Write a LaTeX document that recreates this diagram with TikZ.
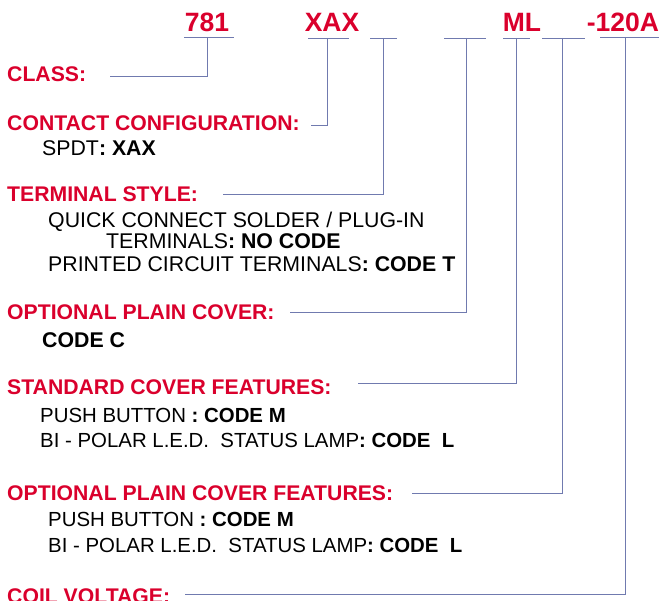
\documentclass[tikz,border=0pt]{standalone}
\usepackage{fontspec}
\setmainfont{Liberation Sans}
\definecolor{codered}{RGB}{218,0,44}
\definecolor{wireblue}{RGB}{112,122,175}
\tikzset{
  code/.style={text=codered,font=\fontsize{26.5}{30}\selectfont\bfseries,inner sep=0pt,anchor=base},
  field/.style={text=codered,font=\fontsize{21.2}{24}\selectfont\bfseries,inner sep=0pt,anchor=base west},
  option/.style={text=black,font=\fontsize{21.3}{24}\selectfont,inner sep=0pt,anchor=base west},
  feature/.style={option,font=\fontsize{20.4}{24}\selectfont},
  wire/.style={draw=wireblue,line width=0.9pt}
}
\begin{document}
\begin{tikzpicture}[x=1pt,y=-1pt]
\useasboundingbox (0,0) rectangle (663,601);
\clip (0,0) rectangle (663,601);

% part number
\node[code] (c781) at (207,31.5) {781};
\node[code] (cxax) at (332,31.5) {XAX};
\node[code] (cml) at (522,31.5) {ML};
\node[code] (cvolt) at (623,31.5) {-120A};

\draw[wire] (184,37) -- (234,37);
\draw[wire] (308,38) -- (349,38);
\draw[wire] (370,38) -- (397,38);
\draw[wire] (444,38) -- (486,38);
\draw[wire] (503,38) -- (530,38);
\draw[wire] (542,38) -- (585,38);
\draw[wire] (600,37) -- (659,37);

\coordinate (t1) at (207.6,37);
\coordinate (t2) at (327.5,38);
\coordinate (t3) at (383.5,38);
\coordinate (t4) at (466,38);
\coordinate (t5) at (516.5,38);
\coordinate (t6) at (562.7,38);
\coordinate (t7) at (625.8,37);

% fields
\node[field] (fclass) at (7,81.5) {CLASS:};
\node[field] (fcontact) at (7,130.5) {CONTACT CONFIGURATION:};
\node[option] (ospdt) at (42,155.5) {SPDT\textbf{: XAX}};

\node[field] (fterm) at (7,202) {TERMINAL STYLE:};
\node[option] (oquick) at (48,227.5) {QUICK CONNECT SOLDER / PLUG-IN};
\node[option] (oqcode) at (106,248.5) {TERMINALS\textbf{: NO CODE}};
\node[option] (oprint) at (48,271.5) {PRINTED CIRCUIT TERMINALS\textbf{: CODE T}};

\node[field] (fcover) at (7,319.5) {OPTIONAL PLAIN COVER:};
\node[option] (ocover) at (42,347.5) {\textbf{CODE C}};

\node[field] (fstd) at (7,394.5) {STANDARD COVER FEATURES:};
\node[feature] (ostdpb) at (40,422.5) {PUSH BUTTON \textbf{: CODE M}};
\node[feature] (ostdled) at (40,447.5) {BI - POLAR L.E.D.\ \ STATUS LAMP\textbf{: CODE\ \ L}};

\node[field] (fopt) at (7,500.5) {OPTIONAL PLAIN COVER FEATURES:};
\node[feature] (ooptpb) at (48,526.5) {PUSH BUTTON \textbf{: CODE M}};
\node[feature] (ooptled) at (48,552.5) {BI - POLAR L.E.D.\ \ STATUS LAMP\textbf{: CODE\ \ L}};

\node[field] (fcoil) at (7,603) {COIL VOLTAGE:};

% leaders
\coordinate (e1) at (110,76);
\coordinate (e2) at (311,125);
\coordinate (e3) at (223,194);
\coordinate (e4) at (290,312);
\coordinate (e5) at (358,383);
\coordinate (e6) at (412,493);
\coordinate (e7) at (185,594);

\draw[wire] (t1) |- (e1);
\draw[wire] (t2) |- (e2);
\draw[wire] (t3) |- (e3);
\draw[wire] (t4) |- (e4);
\draw[wire] (t5) |- (e5);
\draw[wire] (t6) |- (e6);
\draw[wire] (t7) |- (e7);
\end{tikzpicture}
\end{document}
